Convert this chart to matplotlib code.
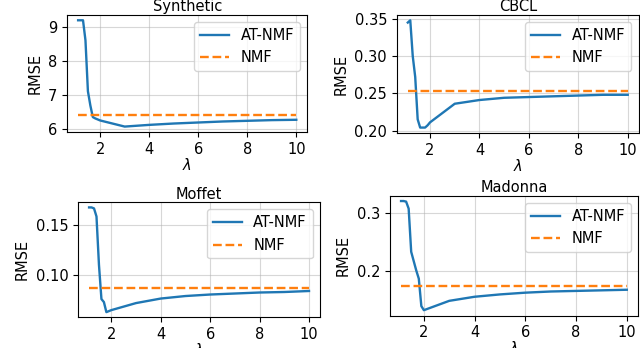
import numpy as np
import matplotlib
matplotlib.use("Agg")
import matplotlib.pyplot as plt

# lambda grid shared by all four datasets
lam = [1.1, 1.2, 1.3, 1.4, 1.5, 1.6, 1.7, 1.8, 1.9, 2, 3, 4, 5, 6, 7, 8, 9, 10]

# AT-NMF RMSE per dataset
rmse_synthetic = [9.21, 9.21, 9.21, 8.62, 7.12, 6.70, 6.36, 6.32, 6.29, 6.26,
                  6.08, 6.13, 6.17, 6.20, 6.23, 6.25, 6.27, 6.28]
rmse_cbcl = [0.345, 0.348, 0.300, 0.272, 0.215, 0.204, 0.204, 0.204, 0.207, 0.211,
             0.236, 0.241, 0.244, 0.245, 0.246, 0.247, 0.248, 0.248]
rmse_moffet = [0.167, 0.167, 0.166, 0.158, 0.110, 0.076, 0.073, 0.063, 0.064, 0.065,
               0.072, 0.0765, 0.079, 0.0805, 0.0815, 0.0825, 0.083, 0.084]
rmse_madonna = [0.320, 0.320, 0.319, 0.307, 0.233, 0.217, 0.201, 0.187, 0.140, 0.133,
                0.149, 0.156, 0.160, 0.163, 0.165, 0.166, 0.167, 0.168]

# plain NMF baseline (constant)
nmf_synthetic = 6.41
nmf_cbcl = 0.253
nmf_moffet = 0.087
nmf_madonna = 0.174

titles = ["Synthetic", "CBCL", "Moffet", "Madonna"]

FS = 10.5
plt.rcParams['font.size'] = FS

fig = plt.figure(figsize=(6.4, 3.48), dpi=100)

boxes = [
    [0.105, 0.621, 0.375, 0.336],
    [0.620, 0.618, 0.378, 0.339],
    [0.122, 0.088, 0.378, 0.331],
    [0.609, 0.093, 0.388, 0.345],
]

panels = [
    (rmse_synthetic, nmf_synthetic),
    (rmse_cbcl, nmf_cbcl),
    (rmse_moffet, nmf_moffet),
    (rmse_madonna, nmf_madonna),
]

for box, (rmse, nmf), title in zip(boxes, panels, titles):
    ax = fig.add_axes(box)
    ax.plot(lam, rmse, color='tab:blue', linewidth=1.7, label='AT-NMF')
    ax.plot(lam, np.full(len(lam), nmf), color='tab:orange', linestyle='--',
            linewidth=1.7, label='NMF')
    ax.set_title(title, fontsize=FS, pad=2.5)
    ax.set_xlabel(r'$\lambda$', fontsize=FS, labelpad=0)
    ax.set_ylabel('RMSE', fontsize=FS)
    ax.set_xticks([2, 4, 6, 8, 10])
    ax.grid(True, alpha=0.5)
    ax.legend(loc='upper right', fontsize=FS)
    ax.tick_params(labelsize=FS)

axs = fig.axes
axs[0].set_yticks([6, 7, 8, 9])
axs[1].set_yticks([0.20, 0.25, 0.30, 0.35])
axs[1].yaxis.set_major_formatter(matplotlib.ticker.FormatStrFormatter('%.2f'))
axs[2].set_yticks([0.10, 0.15])
axs[2].yaxis.set_major_formatter(matplotlib.ticker.FormatStrFormatter('%.2f'))
axs[3].set_yticks([0.2, 0.3])

fig.savefig('out.png', dpi=100)
